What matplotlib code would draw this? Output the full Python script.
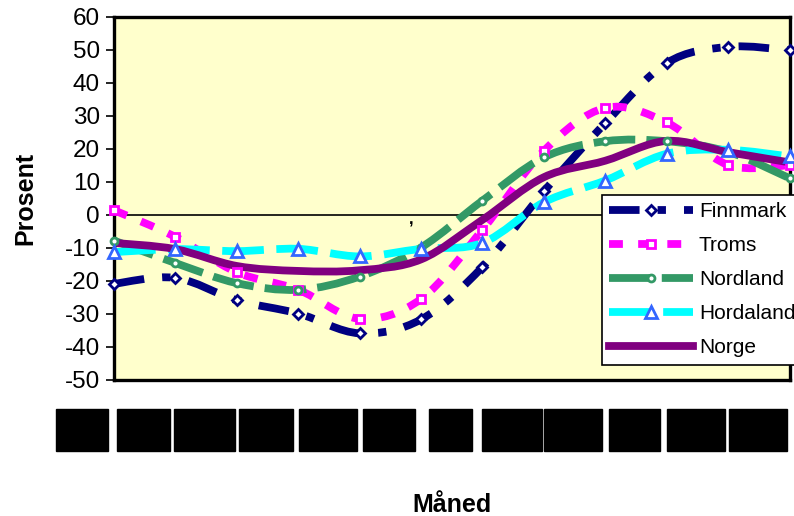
import numpy as np
import matplotlib
matplotlib.use("Agg")
import matplotlib.pyplot as plt
from matplotlib.path import Path
from matplotlib.patches import PathPatch
from matplotlib.lines import Line2D

MONTHS = ["jan", "feb", "mar", "apr", "mai", "jun",
          "jul", "aug", "sep", "okt", "nov", "des"]
FINNMARK = [-21.0, -19.2, -26.0, -30.0, -36.0, -31.8, -15.9, 7.0, 27.7, 45.9, 50.8, 49.8]
TROMS = [1.3, -6.8, -17.5, -22.8, -31.6, -25.6, -4.6, 19.3, 32.3, 27.9, 15.0, 14.9]
NORDLAND = [-7.9, -14.7, -20.8, -22.8, -18.8, -10.0, 4.2, 17.3, 22.2, 22.2, 19.0, 11.0]
HORDALAND = [-11.4, -10.5, -11.1, -10.4, -12.7, -10.4, -8.6, 3.7, 10.3, 18.4, 19.6, 17.6]
NORGE = [-8.6, -10.5, -15.6, -17.1, -16.9, -13.6, -1.6, 11.3, 16.3, 22.3, 18.9, 15.8]
YTICKS = list(range(-50, 61, 10))

plt.rcParams["font.family"] = ["Liberation Sans", "DejaVu Sans"]
plt.rcParams["lines.scale_dashes"] = False
plt.rcParams["axes.unicode_minus"] = False


def smooth(xs, ys):
    # Excel-style smoothed line as cubic Bezier segments through the points
    p = np.column_stack([xs, ys]).astype(float)
    n = len(p)
    verts, codes = [p[0]], [Path.MOVETO]
    for i in range(n - 1):
        a = p[i - 1] if i > 0 else p[i]
        d = p[i + 2] if i + 2 < n else p[i + 1]
        verts += [p[i] + (p[i + 1] - a) / 6, p[i + 1] - (d - p[i]) / 6, p[i + 1]]
        codes += [Path.CURVE4] * 3
    return Path(verts, codes)


# name, values, line colour, dashes, marker, marker colour, marker size
SERIES = [
    ("Finnmark", FINNMARK, "#000080", (0, (22, 13, 6, 13)), "D", "#000080", 5.5),
    ("Troms", TROMS, "#FF00FF", (0, (10, 11)), "s", "#FF00FF", 6),
    ("Nordland", NORDLAND, "#339966", (0, (30, 8)), "o", "#339966", 5),
    ("Hordaland", HORDALAND, "#00FFFF", (0, (30, 9)), "^", "#3366FF", 8.5),
    ("Norge", NORGE, "#800080", "-", None, None, 0),
]

fig = plt.figure(figsize=(7.94, 5.16), dpi=100)
ax = fig.add_axes([114 / 794, 1 - 379.5 / 516, 675.5 / 794, 363 / 516])
ax.set_facecolor("#FFFFCC")
x = np.arange(len(MONTHS))

ax.axhline(0, color="black", lw=1.2, zorder=1)

handles = []
for k, (name, vals, col, ls, mk, mcol, ms) in enumerate(SERIES):
    lw = 5.6
    ax.add_patch(PathPatch(smooth(x, vals), fill=False, edgecolor=col, lw=lw,
                           linestyle=ls, capstyle="butt", zorder=2 + k * 0.1))
    if mk:
        ax.plot(x, vals, ls="none", marker=mk, ms=ms, mfc="white", mec=mcol,
                mew=2, zorder=4, clip_on=False)
    handles.append(Line2D([], [], color=col, lw=lw, ls=ls, marker=mk, ms=ms,
                          mfc="white", mec=mcol, mew=2, dash_capstyle="butt"))

ax.text(4.84, -1.8, ",", fontsize=12, fontweight="bold", ha="center", va="center")

ax.set_xlim(0, 11)
ax.set_ylim(-50, 60)
ax.set_yticks(YTICKS)
ax.set_xticks([])
ax.tick_params(axis="y", direction="out", length=6, width=1.2, labelsize=17.5, pad=4)
for s in ax.spines.values():
    s.set_linewidth(2.4)

# month labels (rendered as solid black boxes in the reference)
for i, m in enumerate(MONTHS):
    ax.text(i - 0.52, -0.105, m, transform=ax.get_xaxis_transform(), fontsize=18,
            color="black", ha="center", va="top",
            bbox=dict(boxstyle="square,pad=0.36", fc="black", ec="black"))

ax.set_ylabel("Prosent", fontsize=18, fontweight="bold", labelpad=20)
fig.text(452 / 794, 1 - 505 / 516, "Måned", fontsize=18, fontweight="bold",
         ha="center", va="center")

leg = ax.legend(handles, [s[0] for s in SERIES], loc="upper left",
                bbox_to_anchor=(602 / 794, 1 - 195 / 516), bbox_transform=fig.transFigure,
                fontsize=15, frameon=True, fancybox=False, framealpha=1,
                edgecolor="black", borderaxespad=0, borderpad=0.35, handlelength=4.0,
                handletextpad=0.3, labelspacing=0.72, numpoints=1)
leg.get_frame().set_linewidth(1.2)
leg.set_zorder(6)

fig.savefig("out.png", dpi=100)
